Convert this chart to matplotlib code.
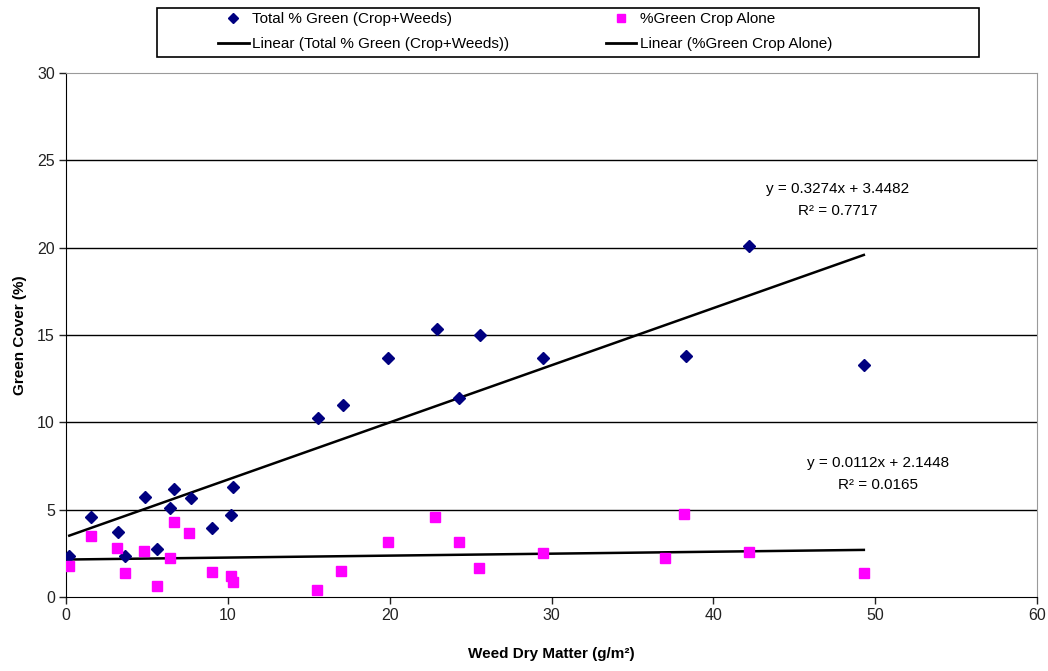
import numpy as np
import matplotlib
matplotlib.use("Agg")
import matplotlib.pyplot as plt
from matplotlib.lines import Line2D
from matplotlib.patches import Rectangle

plt.rcParams['font.family'] = ['Liberation Sans', 'DejaVu Sans']

# Total % green (crop + weeds)
x_total = [0.2, 1.55, 3.2, 3.65, 4.9, 5.6, 6.4, 6.7, 7.7, 9.0, 10.2, 10.3,
           15.6, 17.1, 19.9, 22.9, 24.3, 25.6, 29.5, 38.3, 42.2, 49.3]
y_total = [2.35, 4.58, 3.75, 2.35, 5.7, 2.75, 5.09, 6.18, 5.67, 3.95, 4.69, 6.3,
           10.25, 10.99, 13.68, 15.34, 11.39, 15.0, 13.68, 13.8, 20.09, 13.28]

# % green crop alone
x_crop = [0.2, 1.55, 3.15, 3.65, 4.8, 5.6, 6.4, 6.7, 7.6, 9.0, 10.2, 10.3,
          15.5, 17.0, 19.9, 22.8, 24.3, 25.5, 29.5, 37.0, 38.2, 42.2, 49.3]
y_crop = [1.77, 3.49, 2.8, 1.37, 2.63, 0.63, 2.23, 4.29, 3.66, 1.43, 1.2, 0.86,
          0.4, 1.49, 3.15, 4.58, 3.15, 1.66, 2.52, 2.23, 4.75, 2.58, 1.37]

# trendline coefficients as printed on the chart
fit_total = (0.3274, 3.4482, 0.7717)
fit_crop = (0.0112, 2.1448, 0.0165)

labels = ["Total % Green (Crop+Weeds)", "%Green Crop Alone",
          "Linear (Total % Green (Crop+Weeds))", "Linear (%Green Crop Alone)"]

fig = plt.figure(figsize=(10.48, 6.71), dpi=100)
ax = fig.add_axes([0.063, 0.1103, 0.9265, 0.7807])

ax.plot(x_total, y_total, linestyle='none', marker='D', ms=6, color='#000080', zorder=4)
ax.plot(x_crop, y_crop, linestyle='none', marker='s', ms=6.5, color='#FF00FF', zorder=4)

xt = np.array([min(x_total), max(x_total)])
ax.plot(xt, fit_total[0] * xt + fit_total[1], color='black', lw=1.8, zorder=3)
xc = np.array([min(x_crop), max(x_crop)])
ax.plot(xc, fit_crop[0] * xc + fit_crop[1], color='black', lw=1.8, zorder=3)

ax.set_xlim(0, 60)
ax.set_ylim(0, 30)
ax.set_xticks(np.arange(0, 61, 10))
ax.set_yticks(np.arange(0, 31, 5))
for yv in np.arange(5, 30, 5):
    ax.axhline(yv, color='black', lw=1, zorder=1)

ax.tick_params(direction='out', length=5, width=1, labelsize=11.5, colors='#222222', pad=3)
for s in ['left', 'bottom']:
    ax.spines[s].set_color('black')
for s in ['top', 'right']:
    ax.spines[s].set_color('#9a9a9a')

ax.set_xlabel("Weed Dry Matter (g/m²)", fontsize=11, fontweight='bold', labelpad=17)
ax.set_ylabel("Green Cover (%)", fontsize=11, fontweight='bold', labelpad=7)

ax.text(47.7, 22.75, "y = %.4fx + %.4f\nR² = %.4f" % fit_total,
        ha='center', va='center', fontsize=11, linespacing=1.75)
ax.text(50.2, 7.05, "y = %.4fx + %.4f\nR² = %.4f" % fit_crop,
        ha='center', va='center', fontsize=11, linespacing=1.75)

# legend box
fig.patches.append(Rectangle((157 / 1048, 1 - 57 / 671), (979 - 157) / 1048, 49 / 671,
                             transform=fig.transFigure, facecolor='white',
                             edgecolor='black', lw=1.2))
handles = [Line2D([], [], linestyle='none', marker='D', ms=5, color='#000080'),
           Line2D([], [], color='black', lw=2),
           Line2D([], [], linestyle='none', marker='s', ms=6, color='#FF00FF'),
           Line2D([], [], color='black', lw=2)]
fig.legend(handles, [labels[0], labels[2], labels[1], labels[3]], ncol=2,
           loc='upper left', bbox_to_anchor=(218 / 1048, 1 - 12 / 671),
           frameon=False, fontsize=11, handlelength=2.0, handletextpad=0.25,
           columnspacing=6.3, labelspacing=0.75, borderpad=0, borderaxespad=0)

fig.savefig("out.png", dpi=100)
